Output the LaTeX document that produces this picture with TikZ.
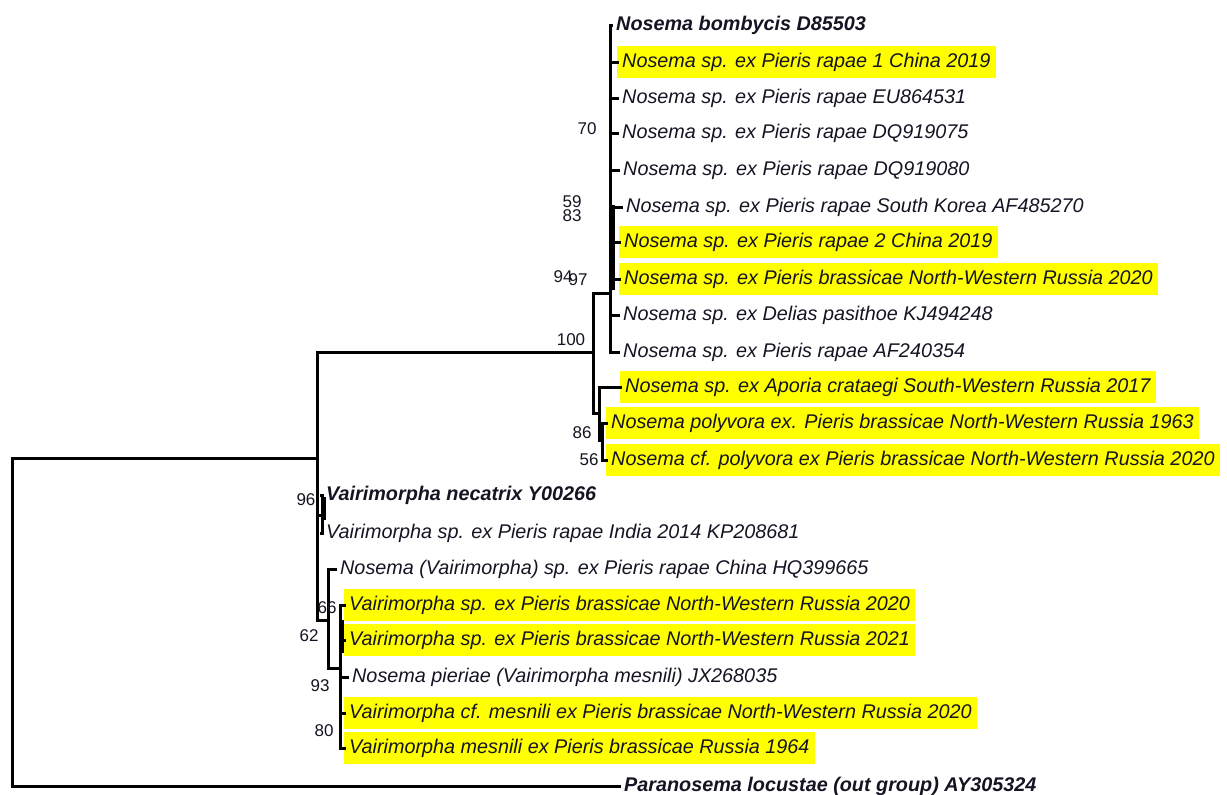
\documentclass[tikz,border=0pt]{standalone}
\usepackage{fontspec}
\setmainfont{Liberation Sans}
\definecolor{hl}{RGB}{255,255,0}
\definecolor{tx}{RGB}{20,20,35}
\begin{document}
\begin{tikzpicture}[x=1pt,y=-1pt,
  br/.style={line width=3pt,line cap=rect,line join=miter},
  tip/.style={anchor=west,inner xsep=5pt,inner ysep=0pt,minimum height=32pt,text=tx,font=\fontsize{19.8}{21}\selectfont\itshape},
  hi/.style={tip,fill=hl},
  bt/.style={tip,font=\fontsize{19.8}{21}\selectfont\bfseries\itshape},
  bs/.style={inner sep=0pt,text=tx,font=\fontsize{17}{18}\selectfont}]
\useasboundingbox (0,0) rectangle (1227,795);
% tips
\node[bt] (t1) at (611,25) {Nosema bombycis D85503};
\node[hi] (t2) at (617,62) {Nosema sp. ex Pieris rapae 1 China 2019};
\node[tip] (t3) at (617,98) {Nosema sp. ex Pieris rapae EU864531};
\node[tip] (t4) at (617,133) {Nosema sp. ex Pieris rapae DQ919075};
\node[tip] (t5) at (618,170) {Nosema sp. ex Pieris rapae DQ919080};
\node[tip] (t6) at (621,207) {Nosema sp. ex Pieris rapae South Korea AF485270};
\node[hi] (t7) at (619,242) {Nosema sp. ex Pieris rapae 2 China 2019};
\node[hi] (t8) at (619,279) {Nosema sp. ex Pieris brassicae North-Western Russia 2020};
\node[tip] (t9) at (618,315) {Nosema sp. ex Delias pasithoe KJ494248};
\node[tip] (t10) at (618,352) {Nosema sp. ex Pieris rapae AF240354};
\node[hi] (t11) at (620,387) {Nosema sp. ex Aporia crataegi South-Western Russia 2017};
\node[hi] (t12) at (606,423) {Nosema polyvora ex. Pieris brassicae North-Western Russia 1963};
\node[hi] (t13) at (606,460) {Nosema cf. polyvora ex Pieris brassicae North-Western Russia 2020};
\node[bt] (t14) at (321,495) {Vairimorpha necatrix Y00266};
\node[tip] (t15) at (321,533) {Vairimorpha sp. ex Pieris rapae India 2014 KP208681};
\node[tip] (t16) at (335,569) {Nosema (Vairimorpha) sp. ex Pieris rapae China HQ399665};
\node[hi] (t17) at (344,605) {Vairimorpha sp. ex Pieris brassicae North-Western Russia 2020};
\node[hi] (t18) at (344,640) {Vairimorpha sp. ex Pieris brassicae North-Western Russia 2021};
\node[tip] (t19) at (347,677) {Nosema pieriae (Vairimorpha mesnili) JX268035};
\node[hi] (t20) at (344,713) {Vairimorpha cf. mesnili ex Pieris brassicae North-Western Russia 2020};
\node[hi] (t21) at (344,748) {Vairimorpha mesnili ex Pieris brassicae Russia 1964};
\node[bt] (t22) at (619,786) {Paranosema locustae (out group) AY305324};
% internal nodes
\coordinate (r1) at (12,458); \coordinate (r2) at (12,786);
\coordinate (a) at (317,458); \coordinate (a1) at (317,352); \coordinate (a2) at (317,620); \coordinate (a3) at (317,515);
\coordinate (n100a) at (593,352); \coordinate (n100t) at (593,293); \coordinate (n100b) at (593,413);
\coordinate (c) at (610,293);
\coordinate (n86) at (599,413);
\coordinate (n56) at (602,440);
\coordinate (n96) at (322,515);
\coordinate (n62) at (328,620);
\coordinate (n93) at (340,668);
% root
\draw[br] (r1) -- (a);
\draw[br] (r1) -- (r2) -- (t22.west);
% node A
\draw[br] (a1) -- (a2);
\draw[br] (a1) -- (n100a);
\draw[br] (n100t) -- (n100b);
\draw[br] (n100t) -- (c);
% big Nosema clade
\draw[br] (t1.west -| c) -- (t10.west -| c);
\foreach \i in {1,...,10} \draw[br] (t\i.west -| c) -- (t\i.west);
\draw[line width=6pt] (612,205) -- (612,290);
% lower Nosema
\draw[br] (n100b) -- (n86);
\draw[br] (t11.west -| n86) -- (n56 -| n86);
\draw[br] (t11.west -| n86) -- (t11.west);
\draw[br] (n56 -| n86) -- (n56);
\draw[br] (t12.west -| n56) -- (t13.west -| n56);
\draw[br] (t12.west -| n56) -- (t12.west);
\draw[br] (t13.west -| n56) -- (t13.west);
% Vairimorpha
\draw[br] (a3) -- (n96);
\draw[br] (t14.west -| n96) -- (t15.west -| n96);
\draw[line width=5pt] (323,497) -- (323,520);
\draw[br] (t14.west -| n96) -- (t14.west);
\draw[br] (t15.west -| n96) -- (t15.west);
\draw[br] (a2) -- (n62);
\draw[br] (t16.west -| n62) -- (n93 -| n62);
\draw[br] (t16.west -| n62) -- (t16.west);
\draw[br] (n93 -| n62) -- (n93);
\draw[br] (t17.west -| n93) -- (t21.west -| n93);
\draw[line width=5pt] (341,620) -- (341,653);
\foreach \i in {17,...,21} \draw[br] (t\i.west -| n93) -- (t\i.west);
% support values
\node[bs] (s70) at (587,129) {70};
\node[bs] (s59) at (572,202) {59};
\node[bs] (s83) at (572,216) {83};
\node[bs] (s94) at (563,277) {94};
\node[bs] (s97) at (578,280) {97};
\node[bs] (s100) at (571,340) {100};
\node[bs] (s86) at (582,433) {86};
\node[bs] (s56) at (589,460) {56};
\node[bs] (s96) at (306,500) {96};
\node[bs] (s66) at (327,608) {66};
\node[bs] (s62) at (309,636) {62};
\node[bs] (s93) at (320,686) {93};
\node[bs] (s80) at (324,731) {80};
\end{tikzpicture}
\end{document}
